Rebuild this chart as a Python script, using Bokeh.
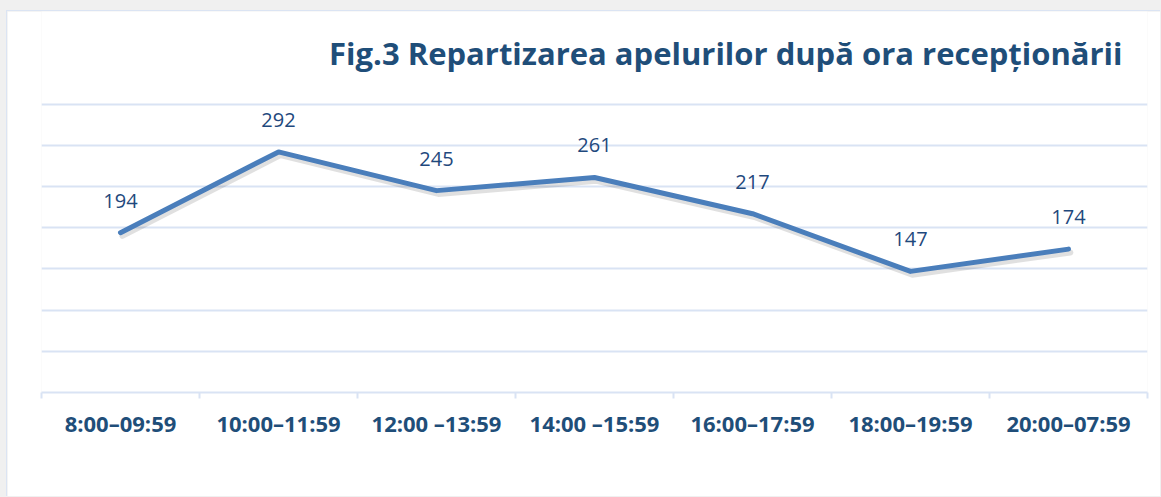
from bokeh.plotting import figure
from bokeh.models import FixedTicker, Range1d, Label, ColumnDataSource
from bokeh.core.properties import value
from bokeh.embed import file_html
from bokeh.resources import INLINE

# ---- data ----
categories = ["8:00–09:59", "10:00–11:59", "12:00 –13:59", "14:00 –15:59",
              "16:00–17:59", "18:00–19:59", "20:00–07:59"]
calls = [194, 292, 245, 261, 217, 147, 174]
grid_values = [0, 50, 100, 150, 200, 250, 300, 350]
title_text = "Fig.3 Repartizarea apelurilor după ora recepționării"

n = len(categories)
xs = [i + 0.5 for i in range(n)]
bounds = list(range(n + 1))

src = ColumnDataSource(dict(x=xs, y=calls, lab=[str(v) for v in calls],
                            ys=[v - 4.0 for v in calls], xsh=[x + 0.012 for x in xs]))

p = figure(width=1154, height=486, output_backend="svg", toolbar_location=None,
           x_range=Range1d(0, n), y_range=Range1d(0, 462.4),
           min_border_left=34, min_border_right=14, min_border_top=0, min_border_bottom=105)
p.title.visible = False
p.outline_line_color = None
p.background_fill_color = "white"
p.border_fill_color = "white"
p.styles = {"margin-left": "6px", "margin-top": "10px",
            "border-left": "1px solid #dbe4f3", "border-top": "1px solid #dbe4f3"}

p.yaxis.visible = False
p.xgrid.visible = False
p.ygrid.ticker = FixedTicker(ticks=grid_values)
p.ygrid.grid_line_color = "#d9e3f4"
p.ygrid.grid_line_width = 2

ax = p.xaxis[0]
ax.ticker = FixedTicker(ticks=xs, minor_ticks=bounds)
ax.major_label_overrides = {x: c for x, c in zip(xs, categories)}
ax.major_tick_line_color = None
ax.major_tick_in = 0
ax.major_tick_out = 0
ax.minor_tick_in = 0
ax.minor_tick_out = 6
ax.minor_tick_line_color = "#d9e3f4"
ax.minor_tick_line_width = 2
ax.axis_line_color = "#d9e3f4"
ax.axis_line_width = 2
ax.major_label_standoff = 9
ax.major_label_text_font = "Open Sans"
ax.major_label_text_font_style = "bold"
ax.major_label_text_font_size = "22px"
ax.major_label_text_color = "#1F4E79"

# shadow + line
p.line("xsh", "ys", source=src, line_color="#000000", line_alpha=0.12, line_width=6,
       line_join="round", line_cap="round")
p.line("x", "y", source=src, line_color="#4A7EBB", line_width=5,
       line_join="round", line_cap="round")

p.text("x", "y", text="lab", source=src, y_offset=-32, text_align="center",
       text_baseline="middle", text_font=value("Open Sans"), text_font_size="20px",
       text_color="#1F497D")

p.add_layout(Label(x=6.842, y=412.6, text=title_text, text_align="right",
                   text_baseline="middle", text_font="Open Sans", text_font_style="bold",
                   text_font_size="31px", text_color="#1F4E79"))

html = file_html(p, INLINE)
html = html.replace("<head>", "<head><style>html,body{background:#f0f0f0;margin:0;overflow:hidden;}</style>", 1)
open("out.html", "w").write(html)
